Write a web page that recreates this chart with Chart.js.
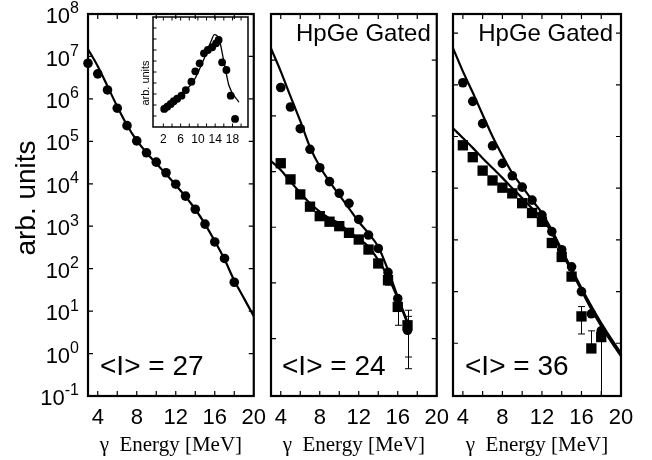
<!DOCTYPE html>
<html>
<head>
<meta charset="utf-8">
<script src="https://cdn.jsdelivr.net/npm/chart.js@4/dist/chart.umd.min.js"></script>
<style>
  body { margin: 0; background: #fff; width: 652px; height: 460px; position: relative; overflow: hidden; }
  canvas { position: absolute; }
</style>
</head>
<body>
<canvas id="p1" width="275" height="460" style="left:0px;top:0px"></canvas>
<canvas id="p2" width="200" height="460" style="left:258px;top:0px"></canvas>
<canvas id="p3" width="212" height="460" style="left:440px;top:0px"></canvas>
<canvas id="inset" width="116" height="142" style="left:140px;top:8px"></canvas>
<script>
// Valeurs (exposants log10 pour les panneaux log)
const energyLabels = [4, 8, 12, 16, 20];
const energyTicks = [4, 6, 8, 10, 12, 14, 16, 18, 20];

// panneau 1 (<I> = 27)
const p1X = [3, 4, 5, 6, 7, 8, 9, 10, 11, 12, 13, 14, 15, 16, 17, 18];
const p1Circles = [6.84, 6.59, 6.21, 5.78, 5.37, 5.01, 4.73, 4.51, 4.26, 3.99, 3.71, 3.40, 3.05, 2.63, 2.24, 1.68];
const p1FitX = [3, 4, 5, 6, 7, 8, 9, 10, 11, 12, 13, 14, 15, 16, 17, 18, 19, 20];
const p1Fit = [7.17, 6.77, 6.30, 5.82, 5.38, 5.02, 4.73, 4.48, 4.23, 3.97, 3.70, 3.40, 3.05, 2.65, 2.22, 1.72, 1.30, 0.88];
const p1Decades = [-1, 0, 1, 2, 3, 4, 5, 6, 7, 8];

// panneau 2 (<I> = 24, HpGe gated)
const p2X = [4, 5, 6, 7, 8, 9, 10, 11, 12, 13, 14, 15, 16, 17];
const p2Circles = [4.51, 4.16, 3.77, 3.40, 3.07, 2.82, 2.61, 2.43, 2.14, 1.86, 1.62, 1.19, 0.72, 0.15];
const p2Squares = [3.15, 2.86, 2.59, 2.37, 2.20, 2.10, 2.02, 1.90, 1.78, 1.60, 1.35, 1.05, 0.57, 0.24];
const p2FitX = [3, 4, 5, 6, 7, 8, 9, 10, 11, 12, 13, 14, 15, 16, 17];
const p2CircleFit = [5.21, 4.80, 4.35, 3.91, 3.44, 3.09, 2.82, 2.58, 2.34, 2.10, 1.89, 1.65, 1.23, 0.75, 0.30];
const p2SquareFit = [3.19, 3.03, 2.82, 2.62, 2.43, 2.28, 2.16, 2.07, 1.92, 1.80, 1.65, 1.41, 1.11, 0.72, 0.27];
const p2ErrX = [15, 16, 17, 17];
const p2ErrLow = [0.96, 0.24, -0.33, -0.54];
const p2ErrHigh = [1.14, 0.75, 0.40, 0.51];
const p2Decades = [-1, 0, 1, 2, 3, 4, 5];

// panneau 3 (<I> = 36, HpGe gated)
const p3X = [4, 5, 6, 7, 8, 9, 10, 11, 12, 13, 14, 15, 16, 17, 18];
const p3Circles = [5.04, 4.68, 4.25, 3.82, 3.48, 3.24, 3.02, 2.77, 2.48, 2.16, 1.81, 1.48, 1.00, 0.57, 0.24];
const p3Squares = [3.83, 3.60, 3.34, 3.15, 3.01, 2.90, 2.71, 2.52, 2.35, 1.94, 1.67, 1.29, 0.52, -0.10, 0.12];
const p3FitX = [3, 4, 5, 6, 7, 8, 9, 10, 11, 12, 13, 14, 15, 16, 17, 18, 19, 20];
const p3CircleFit = [5.71, 5.26, 4.85, 4.42, 4.00, 3.63, 3.29, 3.03, 2.77, 2.52, 2.19, 1.81, 1.44, 1.07, 0.72, 0.39, 0.09, -0.19];
const p3SquareFit = [4.16, 3.97, 3.78, 3.58, 3.39, 3.20, 3.00, 2.81, 2.61, 2.42, 2.13, 1.76, 1.39, 1.02, 0.66, 0.33, 0.03, -0.25];
const p3ErrX = [16, 17, 18];
const p3ErrLow = [0.18, -0.17, -1.2];
const p3ErrHigh = [0.71, 0.24, 0.26];
const p3Decades = [-1, 0, 1, 2, 3, 4, 5, 6];

// encart (échelle linéaire, unités arbitraires)
const insetX = [2.2, 2.9, 3.7, 4.4, 5.2, 6.2, 7.2, 8.5, 9.4, 10.4, 11.4, 12.3, 13.3, 14.2, 14.8, 15.6, 16.6, 17.6, 18.6];
const insetY = [0.164, 0.185, 0.209, 0.234, 0.257, 0.285, 0.336, 0.412, 0.506, 0.579, 0.670, 0.700, 0.725, 0.761, 0.791, 0.588, 0.518, 0.285, 0.073];
const insetFitX = [2.2, 5, 7, 8.9, 11.2, 13.1, 13.8, 14.9, 16, 17.2, 19.5];
const insetFit = [0.20, 0.27, 0.33, 0.41, 0.60, 0.785, 0.84, 0.80, 0.60, 0.375, 0.225];
const insetLabels = [2, 6, 10, 14, 18];
const insetXTicks = [2, 4, 6, 8, 10, 12, 14, 16, 18, 20];
const insetYTicks = [0.1, 0.2, 0.3, 0.4, 0.5, 0.6, 0.7, 0.8, 0.9];

const SANS = '"Liberation Sans", Arial, Helvetica, sans-serif';
const SERIF = '"Liberation Serif", "Times New Roman", serif';
Chart.defaults.font.family = SANS;
Chart.defaults.color = '#000';

const logPts = (xs, es) => xs.map((x, i) => ({ x: x, y: Math.pow(10, es[i]) }));
const linPts = (xs, ys) => xs.map((x, i) => ({ x: x, y: ys[i] }));

// cadre + graduations intérieures
const framePlugin = {
    id: 'frame',
    afterDatasetsDraw(chart, args, opts) {
        const { ctx, chartArea: a, scales } = chart;
        const x = scales.x, y = scales.y;
        ctx.save();
        ctx.strokeStyle = '#000';
        ctx.lineWidth = opts.tickWidth;
        ctx.beginPath();
        opts.xTicks.forEach(v => {
            const px = x.getPixelForValue(v);
            if (px < a.left + 2 || px > a.right - 2) return;
            ctx.moveTo(px, a.bottom); ctx.lineTo(px, a.bottom - opts.len);
            ctx.moveTo(px, a.top); ctx.lineTo(px, a.top + opts.len);
        });
        opts.yTicks.forEach(v => {
            const py = y.getPixelForValue(v);
            if (py < a.top + 2 || py > a.bottom - 2) return;
            ctx.moveTo(a.left, py); ctx.lineTo(a.left + opts.len, py);
            if (opts.rightTicks) { ctx.moveTo(a.right, py); ctx.lineTo(a.right - opts.len, py); }
        });
        ctx.stroke();
        ctx.lineWidth = opts.width;
        ctx.strokeRect(a.left, a.top, a.right - a.left, a.bottom - a.top);
        ctx.restore();
    }
};

// barres d'erreur
const errorPlugin = {
    id: 'errors',
    afterDatasetsDraw(chart, args, opts) {
        if (!opts.x) return;
        const { ctx, chartArea: a, scales: { x, y } } = chart;
        ctx.save();
        ctx.beginPath();
        ctx.rect(a.left, a.top, a.right - a.left, a.bottom - a.top);
        ctx.clip();
        ctx.strokeStyle = '#000';
        ctx.lineWidth = 1;
        ctx.beginPath();
        opts.x.forEach((v, i) => {
            const px = Math.round(x.getPixelForValue(v)) + 0.5;
            const lo = y.getPixelForValue(Math.pow(10, opts.low[i]));
            const hi = y.getPixelForValue(Math.pow(10, opts.high[i]));
            ctx.moveTo(px, lo); ctx.lineTo(px, hi);
            ctx.moveTo(px - 3.5, lo); ctx.lineTo(px + 3.5, lo);
            ctx.moveTo(px - 3.5, hi); ctx.lineTo(px + 3.5, hi);
        });
        ctx.stroke();
        ctx.restore();
    }
};

// textes libres (ancrés au cadre) et étiquettes 10^n
const textPlugin = {
    id: 'texts',
    afterDraw(chart, args, opts) {
        const { ctx, chartArea: a, scales: { y } } = chart;
        ctx.save();
        ctx.fillStyle = '#000';
        (opts.items || []).forEach(t => {
            ctx.font = t.font;
            ctx.textAlign = t.align || 'left';
            ctx.textBaseline = t.baseline || 'alphabetic';
            const px = t.from === 'right' ? a.right + t.dx : (t.from === 'abs' ? t.dx : a.left + t.dx);
            const py = t.fromY === 'bottom' ? a.bottom + t.dy : (t.fromY === 'abs' ? t.dy : a.top + t.dy);
            if (t.rotate) {
                ctx.save();
                ctx.translate(px, py);
                ctx.rotate(t.rotate);
                ctx.fillText(t.text, 0, 0);
                ctx.restore();
            } else {
                ctx.fillText(t.text, px, py);
            }
        });
        if (opts.decades) {
            ctx.textBaseline = 'middle';
            ctx.textAlign = 'right';
            opts.decades.forEach(e => {
                const py = y.getPixelForValue(Math.pow(10, e));
                const right = a.left - 9;
                ctx.font = '16px ' + SANS;
                const exp = String(e);
                const ew = ctx.measureText(exp).width;
                ctx.fillText(exp, right, py - 5);
                ctx.font = '22px ' + SANS;
                ctx.fillText('10', right - ew, py + 3);
            });
        }
        ctx.restore();
    }
};

function xAxis(min, max, labels, fontSize, pad, height, withTitle) {
    return {
        type: 'linear',
        min: min,
        max: max,
        grid: { display: false, drawTicks: false },
        border: { display: false },
        ticks: { font: { size: fontSize }, padding: pad, color: '#000', autoSkip: false, maxRotation: 0 },
        afterBuildTicks: s => { s.ticks = labels.map(v => ({ value: v })); },
        afterFit: s => { s.height = height; },
        title: {
            display: withTitle,
            text: 'γ  Energy [MeV]',
            font: { family: SERIF, size: 21 },
            color: '#000',
            padding: { top: 0, bottom: 2 }
        }
    };
}

function panel(id, cfg) {
    const datasets = [];
    cfg.lines.forEach(l => datasets.push({
        type: 'line', data: l, borderColor: '#000', borderWidth: cfg.lineWidth || 2.2, pointRadius: 0,
        fill: false, cubicInterpolationMode: 'monotone'
    }));
    cfg.markers.forEach(m => datasets.push({
        type: 'scatter', data: m.data, pointStyle: m.style, pointRadius: m.r,
        backgroundColor: '#000', borderColor: '#000', borderWidth: 0, clip: false
    }));
    return new Chart(document.getElementById(id), {
        type: 'scatter',
        data: { datasets: datasets },
        options: {
            responsive: false,
            animation: false,
            devicePixelRatio: 1,
            layout: { autoPadding: false, padding: cfg.padding },
            plugins: {
                legend: { display: false },
                tooltip: { enabled: false },
                frame: cfg.frame,
                errors: cfg.errors || {},
                texts: cfg.texts
            },
            scales: {
                x: cfg.x,
                y: Object.assign({ display: false }, cfg.y)
            }
        },
        plugins: [framePlugin, errorPlugin, textPlugin]
    });
}

const bigFont = '28px ' + SANS;
const gatedFont = '24px ' + SANS;

panel('p1', {
    padding: { left: 88, right: 20, top: 14, bottom: 0 },
    x: xAxis(3, 20, energyLabels, 22, 9, 64, true),
    y: { type: 'logarithmic', min: 0.1, max: 1e8 },
    lines: [logPts(p1FitX, p1Fit)],
    markers: [{ data: logPts(p1X, p1Circles), style: 'circle', r: 4.8 }],
    frame: { xTicks: energyTicks, yTicks: p1Decades.map(e => Math.pow(10, e)), len: 5, width: 2.2, tickWidth: 1.2, rightTicks: true },
    texts: {
        items: [
            { text: '<I> = 27', font: bigFont, from: 'left', dx: 12, fromY: 'bottom', dy: -21 },
            { text: 'arb. units', font: bigFont, from: 'abs', dx: 35, fromY: 'abs', dy: 198, align: 'center', rotate: -Math.PI / 2 }
        ],
        decades: p1Decades
    }
});

panel('p2', {
    padding: { left: 13, right: 20, top: 14, bottom: 0 },
    x: xAxis(3, 20, energyLabels, 22, 9, 64, true),
    y: { type: 'logarithmic', min: Math.pow(10, -1.03), max: Math.pow(10, 5.83) },
    lines: [logPts(p2FitX, p2CircleFit), logPts(p2FitX, p2SquareFit)],
    markers: [
        { data: logPts(p2X, p2Circles), style: 'circle', r: 4.8 },
        { data: logPts(p2X, p2Squares), style: 'rect', r: 7.3 }
    ],
    errors: { x: p2ErrX, low: p2ErrLow, high: p2ErrHigh },
    frame: { xTicks: energyTicks, yTicks: p2Decades.map(e => Math.pow(10, e)), len: 5, width: 2.2, tickWidth: 1.2, rightTicks: true },
    texts: {
        items: [
            { text: 'HpGe Gated', font: gatedFont, from: 'right', dx: -6, fromY: 'top', dy: 27, align: 'right' },
            { text: '<I> = 24', font: bigFont, from: 'left', dx: 11, fromY: 'bottom', dy: -21 }
        ]
    }
});

panel('p3', {
    padding: { left: 13, right: 31, top: 14, bottom: 0 },
    x: xAxis(3, 20, energyLabels, 22, 9, 64, true),
    y: { type: 'logarithmic', min: Math.pow(10, -1.02), max: Math.pow(10, 6.37) },
    lines: [logPts(p3FitX, p3CircleFit), logPts(p3FitX, p3SquareFit)],
    markers: [
        { data: logPts(p3X, p3Circles), style: 'circle', r: 4.8 },
        { data: logPts(p3X, p3Squares), style: 'rect', r: 7.3 }
    ],
    errors: { x: p3ErrX, low: p3ErrLow, high: p3ErrHigh },
    frame: { xTicks: energyTicks, yTicks: p3Decades.map(e => Math.pow(10, e)), len: 5, width: 2.2, tickWidth: 1.2, rightTicks: true },
    texts: {
        items: [
            { text: 'HpGe Gated', font: gatedFont, from: 'right', dx: -8, fromY: 'top', dy: 27, align: 'right' },
            { text: '<I> = 36', font: bigFont, from: 'left', dx: 12, fromY: 'bottom', dy: -21 }
        ]
    }
});

// encart dans le panneau 1
panel('inset', {
    padding: { left: 13, right: 8, top: 9, bottom: 0 },
    lineWidth: 1.3,
    x: xAxis(-0.4, 21.6, insetLabels, 12, 5, 23, false),
    y: { type: 'linear', min: 0, max: 1 },
    lines: [linPts(insetFitX, insetFit)],
    markers: [{ data: linPts(insetX, insetY), style: 'circle', r: 3.9 }],
    frame: { xTicks: insetXTicks, yTicks: insetYTicks, len: 3.5, width: 1.5, tickWidth: 1, rightTicks: false },
    texts: {
        items: [
            { text: 'arb. units', font: '11px ' + SANS, from: 'abs', dx: 9, fromY: 'abs', dy: 75, align: 'center', rotate: -Math.PI / 2 }
        ]
    }
});
</script>
</body>
</html>
